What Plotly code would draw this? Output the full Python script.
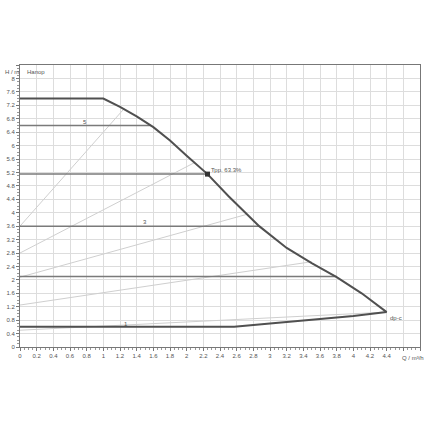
import plotly.graph_objects as go

# max speed curve
max_q = [0, 1.0, 1.2, 1.4, 1.6, 1.8, 2.0, 2.25, 2.5, 2.87, 3.2, 3.5, 3.8, 4.1, 4.4]
max_h = [7.4, 7.4, 7.15, 6.87, 6.55, 6.15, 5.7, 5.15, 4.5, 3.6, 2.95, 2.5, 2.08, 1.6, 1.04]

# min speed curve
min_q = [0, 2.57, 3.0, 3.5, 4.0, 4.4]
min_h = [0.6, 0.6, 0.7, 0.8, 0.92, 1.04]

# constant pressure lines (dp-c settings)
dpc_h = [6.6, 5.15, 3.6, 2.1]
dpc_qend = [1.57, 2.25, 2.87, 3.8]

# variable pressure lines (dp-v)
dpv_q0 = [0, 0, 0, 0, 0]
dpv_h0 = [3.6, 2.8, 2.08, 1.25, 0.5]
dpv_q1 = [1.25, 2.1, 2.72, 3.5, 4.4]
dpv_h1 = [7.1, 5.5, 3.95, 2.54, 1.04]

# duty point
duty_q = [2.25]
duty_h = [5.15]
duty_label = "Трр. 63.3%"

x_ticks = [round(i * 0.2, 1) for i in range(25)]
x_text = [f"{v:g}" for v in x_ticks[:23]] + ["", ""]
y_ticks = [round(i * 0.4, 1) for i in range(22)]
y_text = [f"{v:g}" for v in y_ticks[:21]] + [""]

fig = go.Figure()

for q0, h0, q1, h1 in zip(dpv_q0, dpv_h0, dpv_q1, dpv_h1):
    fig.add_trace(go.Scatter(x=[q0, q1], y=[h0, h1], mode="lines",
                             line=dict(color="#cfcfcf", width=1), hoverinfo="skip"))

for h, qe in zip(dpc_h, dpc_qend):
    fig.add_trace(go.Scatter(x=[0, qe], y=[h, h], mode="lines",
                             line=dict(color="#7a7a7a", width=1.5), hoverinfo="skip"))

fig.add_trace(go.Scatter(x=max_q, y=max_h, mode="lines",
                         line=dict(color="#505050", width=2)))
fig.add_trace(go.Scatter(x=min_q, y=min_h, mode="lines",
                         line=dict(color="#505050", width=2)))

fig.add_trace(go.Scatter(x=duty_q, y=duty_h, mode="markers",
                         marker=dict(symbol="square", size=5, color="#333333")))

lab_font = dict(family="Arial, Liberation Sans", size=6, color="#555555")
fig.add_annotation(x=duty_q[0], y=duty_h[0], text=duty_label, showarrow=False,
                   xanchor="left", yanchor="bottom", xshift=1, yshift=-1, font=lab_font)
fig.add_annotation(x=0.78, y=6.7, text="5", showarrow=False, font=lab_font)
fig.add_annotation(x=1.5, y=3.72, text="3", showarrow=False, font=lab_font)
fig.add_annotation(x=1.27, y=0.7, text="1", showarrow=False, font=lab_font)
fig.add_annotation(x=4.42, y=1.0, text="dp-c", showarrow=False, xanchor="left",
                   yanchor="top", font=lab_font)
fig.add_annotation(x=0.06, y=8.33, text="Напор", showarrow=False, xanchor="left",
                   yanchor="top", font=lab_font)
fig.add_annotation(x=-0.0425, xref="paper", y=8.2, text="H / m", showarrow=False,
                   xanchor="left", font=lab_font)
fig.add_annotation(x=4.71, y=0, text="Q / m³/h", showarrow=False,
                   yanchor="top", yshift=-6, font=lab_font)

fig.update_layout(
    width=424, height=424,
    margin=dict(l=20, r=4, t=65, b=77),
    plot_bgcolor="white", paper_bgcolor="white",
    showlegend=False,
    font=lab_font,
)
fig.update_xaxes(range=[0, 4.8], tickvals=x_ticks, ticktext=x_text,
                 showgrid=True, gridcolor="#dddddd", gridwidth=1,
                 showline=True, linecolor="#777777", mirror=True, zeroline=False,
                 ticks="outside", ticklen=3, tickcolor="#777777",
                 minor=dict(dtick=0.05, ticks="outside", ticklen=2, tickcolor="#999999",
                            showgrid=False),
                 tickfont=lab_font)
fig.update_yaxes(range=[0, 8.4], tickvals=y_ticks, ticktext=y_text,
                 showgrid=True, gridcolor="#dddddd", gridwidth=1,
                 showline=True, linecolor="#777777", mirror=True, zeroline=False,
                 ticks="outside", ticklen=3, tickcolor="#777777",
                 minor=dict(dtick=0.1, ticks="outside", ticklen=2, tickcolor="#999999",
                            showgrid=False),
                 tickfont=lab_font)

fig.write_html("out.html", config={"displayModeBar": False},
               post_script="document.body.style.margin='0';")
